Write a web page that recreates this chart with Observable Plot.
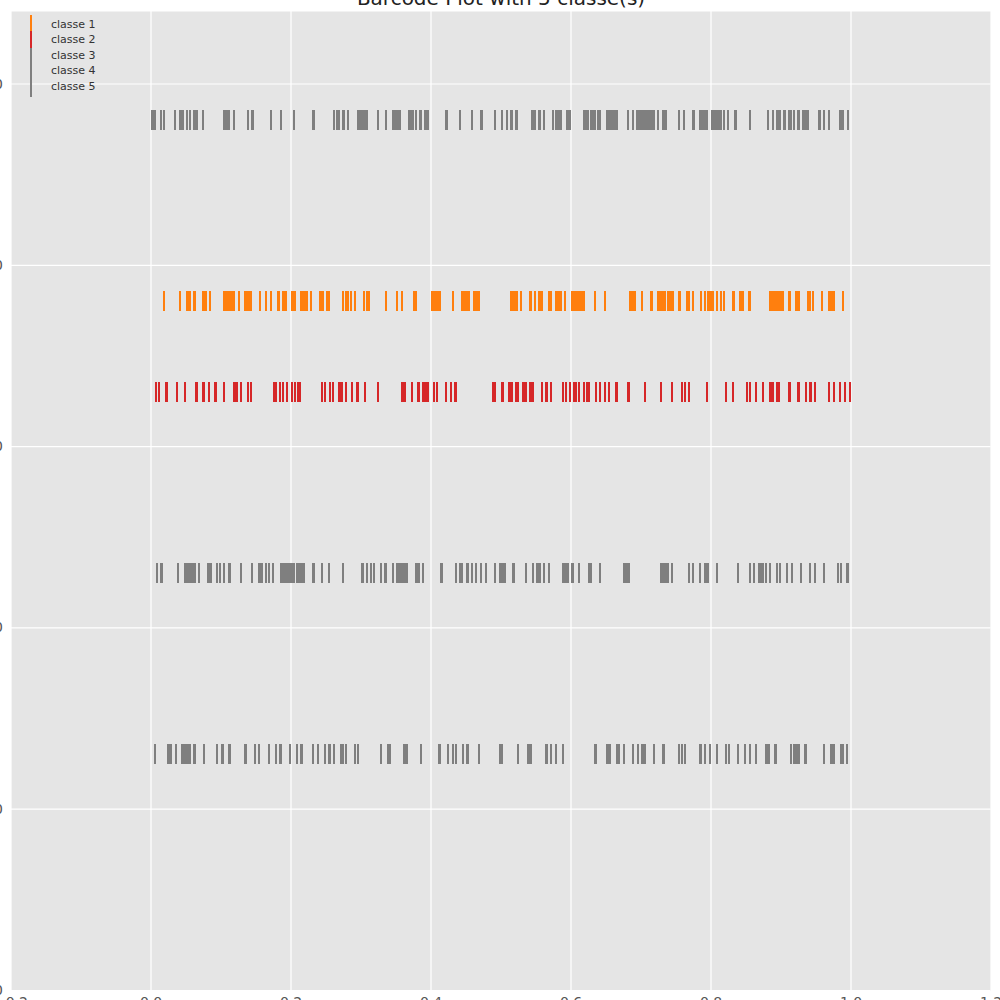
<!DOCTYPE html>
<html>
<head>
<meta charset="utf-8">
<script src="https://cdn.jsdelivr.net/npm/d3@7"></script>
<script src="https://cdn.jsdelivr.net/npm/@observablehq/plot@0.6"></script>
<style>
  html, body { margin: 0; padding: 0; background: white; }
  #wrap { position: relative; width: 1000px; height: 1000px; overflow: hidden; font-family: "DejaVu Sans", sans-serif; }
  #legend { position: absolute; left: 30px; top: 16.5px; }
  .item { position: relative; height: 15.5px; line-height: 15.5px; font-size: 11px; color: #333; padding-left: 21px; white-space: nowrap; }
  .sw { position: absolute; left: 0; width: 2px; }
</style>
</head>
<body>
<div id="wrap"></div>
<script>
const title = "Barcode Plot with 5 classe(s)";
const classes = ["classe 1", "classe 2", "classe 3", "classe 4", "classe 5"];
const colors = ["#ff7f0e", "#d62728", "#7f7f7f", "#7f7f7f", "#7f7f7f"];
const rowOffsets = [3.8, 3.3, 4.8, 2.3, 1.3];
const barLength = 0.11;
const xTicks = [-0.2, 0.0, 0.2, 0.4, 0.6, 0.8, 1.0, 1.2];
const yTicks = [0, 1, 2, 3, 4, 5];

const classe1 = [0.019, 0.041, 0.052, 0.055, 0.062, 0.075, 0.078, 0.084, 0.104, 0.106, 0.109, 0.112, 0.115, 0.118, 0.126, 0.134, 0.136, 0.139, 0.142, 0.156, 0.164, 0.171, 0.182, 0.189, 0.192, 0.201, 0.204, 0.206, 0.214, 0.216, 0.219, 0.222, 0.229, 0.241, 0.245, 0.251, 0.254, 0.274, 0.278, 0.281, 0.286, 0.291, 0.304, 0.308, 0.311, 0.336, 0.351, 0.358, 0.376, 0.379, 0.401, 0.404, 0.406, 0.409, 0.412, 0.431, 0.445, 0.448, 0.451, 0.454, 0.462, 0.466, 0.469, 0.514, 0.516, 0.519, 0.522, 0.528, 0.542, 0.549, 0.555, 0.558, 0.568, 0.571, 0.579, 0.582, 0.586, 0.591, 0.602, 0.605, 0.608, 0.612, 0.615, 0.618, 0.634, 0.648, 0.685, 0.688, 0.691, 0.701, 0.715, 0.725, 0.728, 0.731, 0.734, 0.739, 0.742, 0.745, 0.755, 0.766, 0.769, 0.774, 0.786, 0.791, 0.796, 0.799, 0.802, 0.809, 0.814, 0.818, 0.832, 0.842, 0.845, 0.855, 0.885, 0.888, 0.892, 0.895, 0.898, 0.902, 0.912, 0.921, 0.925, 0.938, 0.941, 0.946, 0.958, 0.969, 0.972, 0.976, 0.988];

const classe2 = [0.007, 0.011, 0.022, 0.037, 0.049, 0.065, 0.075, 0.083, 0.092, 0.104, 0.119, 0.122, 0.129, 0.139, 0.143, 0.176, 0.179, 0.184, 0.189, 0.194, 0.201, 0.206, 0.210, 0.213, 0.244, 0.248, 0.256, 0.260, 0.269, 0.272, 0.278, 0.287, 0.295, 0.306, 0.324, 0.358, 0.362, 0.373, 0.382, 0.388, 0.391, 0.395, 0.404, 0.408, 0.421, 0.428, 0.435, 0.488, 0.491, 0.502, 0.512, 0.515, 0.521, 0.524, 0.532, 0.536, 0.541, 0.543, 0.546, 0.558, 0.565, 0.571, 0.589, 0.593, 0.599, 0.604, 0.607, 0.611, 0.619, 0.623, 0.625, 0.636, 0.641, 0.648, 0.654, 0.665, 0.682, 0.706, 0.728, 0.744, 0.759, 0.763, 0.768, 0.794, 0.821, 0.831, 0.851, 0.856, 0.864, 0.874, 0.885, 0.889, 0.894, 0.897, 0.912, 0.925, 0.936, 0.942, 0.949, 0.968, 0.976, 0.984, 0.991, 0.999];

const classe3 = [0.001, 0.004, 0.006, 0.014, 0.018, 0.034, 0.041, 0.044, 0.046, 0.051, 0.056, 0.062, 0.066, 0.074, 0.105, 0.108, 0.111, 0.118, 0.138, 0.145, 0.171, 0.186, 0.204, 0.232, 0.261, 0.266, 0.269, 0.274, 0.276, 0.281, 0.296, 0.299, 0.302, 0.305, 0.308, 0.324, 0.336, 0.346, 0.349, 0.352, 0.356, 0.368, 0.371, 0.374, 0.378, 0.384, 0.386, 0.391, 0.395, 0.422, 0.441, 0.459, 0.472, 0.491, 0.501, 0.508, 0.515, 0.522, 0.545, 0.549, 0.554, 0.556, 0.561, 0.574, 0.578, 0.582, 0.585, 0.594, 0.596, 0.599, 0.618, 0.621, 0.624, 0.628, 0.631, 0.634, 0.638, 0.641, 0.652, 0.656, 0.659, 0.662, 0.666, 0.681, 0.688, 0.694, 0.696, 0.699, 0.702, 0.705, 0.709, 0.712, 0.715, 0.718, 0.724, 0.731, 0.735, 0.754, 0.761, 0.775, 0.785, 0.788, 0.791, 0.794, 0.802, 0.805, 0.808, 0.811, 0.814, 0.818, 0.824, 0.835, 0.856, 0.881, 0.888, 0.895, 0.899, 0.904, 0.906, 0.911, 0.914, 0.918, 0.925, 0.932, 0.936, 0.939, 0.955, 0.961, 0.968, 0.985, 0.989, 0.996];

const classe4 = [0.008, 0.015, 0.039, 0.048, 0.051, 0.055, 0.058, 0.062, 0.068, 0.082, 0.086, 0.094, 0.099, 0.104, 0.112, 0.129, 0.144, 0.154, 0.156, 0.159, 0.164, 0.169, 0.174, 0.186, 0.189, 0.192, 0.195, 0.198, 0.201, 0.204, 0.208, 0.211, 0.215, 0.219, 0.232, 0.244, 0.254, 0.274, 0.302, 0.308, 0.314, 0.319, 0.329, 0.335, 0.346, 0.351, 0.355, 0.358, 0.362, 0.365, 0.378, 0.382, 0.388, 0.415, 0.436, 0.441, 0.444, 0.452, 0.459, 0.464, 0.471, 0.478, 0.491, 0.498, 0.501, 0.504, 0.506, 0.518, 0.536, 0.546, 0.551, 0.554, 0.556, 0.561, 0.569, 0.588, 0.591, 0.595, 0.602, 0.611, 0.626, 0.629, 0.641, 0.676, 0.679, 0.682, 0.729, 0.732, 0.736, 0.739, 0.744, 0.769, 0.774, 0.784, 0.792, 0.796, 0.808, 0.838, 0.856, 0.861, 0.868, 0.871, 0.874, 0.878, 0.884, 0.894, 0.898, 0.909, 0.916, 0.929, 0.941, 0.948, 0.961, 0.981, 0.986, 0.995];

const classe5 = [0.006, 0.025, 0.029, 0.036, 0.045, 0.048, 0.051, 0.055, 0.062, 0.076, 0.094, 0.102, 0.112, 0.135, 0.149, 0.154, 0.169, 0.179, 0.185, 0.199, 0.208, 0.215, 0.231, 0.238, 0.249, 0.255, 0.261, 0.271, 0.274, 0.278, 0.291, 0.296, 0.329, 0.338, 0.341, 0.361, 0.365, 0.386, 0.412, 0.424, 0.431, 0.436, 0.446, 0.452, 0.468, 0.498, 0.501, 0.524, 0.538, 0.542, 0.565, 0.571, 0.578, 0.589, 0.634, 0.636, 0.652, 0.655, 0.666, 0.669, 0.676, 0.688, 0.696, 0.702, 0.706, 0.718, 0.732, 0.754, 0.758, 0.763, 0.785, 0.791, 0.798, 0.808, 0.821, 0.826, 0.838, 0.849, 0.856, 0.864, 0.878, 0.882, 0.892, 0.914, 0.918, 0.922, 0.926, 0.934, 0.936, 0.961, 0.972, 0.976, 0.986, 0.989, 0.994];

const series = [classe1, classe2, classe3, classe4, classe5];
const events = classes.flatMap((c, i) => series[i].map(x => ({
  classe: c, x, y1: rowOffsets[i] - barLength / 2, y2: rowOffsets[i] + barLength / 2
})));

const fmt = d3.format(".1f");
const chart = Plot.plot({
  width: 1000,
  height: 1000,
  marginLeft: 10.5,
  marginRight: 9.5,
  marginTop: 11,
  marginBottom: 10,
  style: { background: "white", fontFamily: "DejaVu Sans, sans-serif", overflow: "visible" },
  x: { domain: [-0.2, 1.2] },
  y: { domain: [0, 5.4] },
  color: { domain: classes, range: colors },
  marks: [
    Plot.frame({ fill: "#e5e5e5", stroke: null }),
    Plot.gridX(xTicks, { stroke: "white", strokeOpacity: 1, strokeWidth: 1.2 }),
    Plot.gridY(yTicks, { stroke: "white", strokeOpacity: 1, strokeWidth: 1.2 }),
    Plot.ruleX(events, { x: "x", y1: "y1", y2: "y2", stroke: "classe", strokeWidth: 2.2, shapeRendering: "crispEdges" }),
    Plot.axisX(xTicks, { tickSize: 0, tickPadding: 7, fontSize: 14, fill: "#555", tickFormat: fmt, label: null }),
    Plot.axisY(yTicks, { tickSize: 0, tickPadding: 8, fontSize: 14, fill: "#555", label: null }),
    Plot.text([title], { frameAnchor: "top", lineAnchor: "bottom", dy: -6.5, fontSize: 20, fill: "#222" })
  ]
});
const wrap = document.getElementById("wrap");
wrap.appendChild(chart);

const legend = document.createElement("div");
legend.id = "legend";
classes.forEach((c, i) => {
  const item = document.createElement("div");
  item.className = "item";
  const sw = document.createElement("span");
  sw.className = "sw";
  sw.style.background = colors[i];
  sw.style.top = (-1.5 + 0.9 * i) + "px";
  sw.style.height = "16.4px";
  item.appendChild(sw);
  item.appendChild(document.createTextNode(c));
  legend.appendChild(item);
});
wrap.appendChild(legend);
</script>
</body>
</html>
